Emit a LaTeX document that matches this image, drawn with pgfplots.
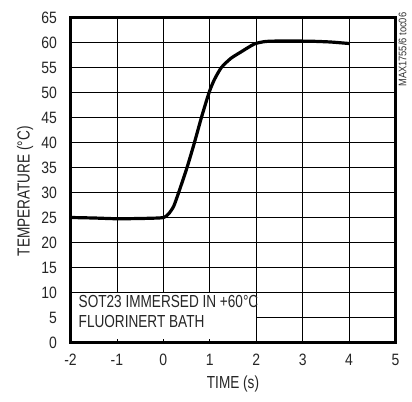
\documentclass[border=0pt]{standalone}
\usepackage{fontspec}
\setmainfont{Liberation Sans}[FakeStretch=0.85]
\newfontfamily\narrowfont{Liberation Sans}[FakeStretch=0.78]
\usepackage{pgfplots}
\pgfplotsset{compat=1.18}
\begin{document}
\begin{tikzpicture}
\path[use as bounding box] (-70.5bp,-59.5bp) rectangle (341.5bp,342.5bp);
\begin{axis}[
  at={(0,0)}, anchor=south west,
  scale only axis, width=325bp, height=325bp,
  xmin=-2, xmax=5, ymin=0, ymax=65,
  xtick={-2,-1,0,1,2,3,4,5}, ytick={0,5,...,65},
  grid=major, major grid style={black, line width=0.6bp},
  tick style={black, line width=0.6bp}, major tick length=4bp, tick align=inside,
  /pgf/number format/assume math mode=true,
  ticklabel style={font=\fontsize{16.5}{16.5}\selectfont, text=black!85},
  xticklabel style={yshift=-8bp},
  yticklabel style={xshift=-10bp},
  xlabel={TIME (s)}, ylabel={TEMPERATURE (°C)},
  label style={font=\narrowfont\fontsize{17.5}{17.5}\selectfont, text=black!85},
  xlabel style={at={(axis description cs:0.5,-0.128)}, anchor=center},
  ylabel style={at={(axis description cs:-0.14,0.465)}, anchor=center},
]
\fill[white] (axis cs:-2,0) rectangle (axis cs:1.99,9.93);
\draw[black, line width=0.6bp] (axis cs:-1,0) -- (axis cs:-1,0.8);
\draw[black, line width=0.6bp] (axis cs:0,0) -- (axis cs:0,0.8);
\draw[black, line width=0.6bp] (axis cs:1,0) -- (axis cs:1,0.8);
\addplot[black, line width=3.2bp, smooth, tension=0.4] coordinates {
(-2,25.0) (-1.5,24.9) (-1,24.75) (-0.5,24.8) (-0.1,24.9) (0,25.0) (0.05,25.2)
(0.12,25.8) (0.22,27.2) (0.33,30) (0.51,35) (0.67,40) (0.82,45) (0.985,50)
(1.1,52.6) (1.25,55) (1.45,56.8) (1.67,58.1) (1.96,59.7) (2.2,60.2) (2.5,60.3)
(2.8,60.3) (3.2,60.25) (3.6,60.1) (4.0,59.8)
};
\node[anchor=north west, align=left, inner sep=0, font=\narrowfont\fontsize{17.5}{20}\selectfont, text=black!85]
  at (axis cs:-2,10) [xshift=8bp, yshift=-3bp] {SOT23 IMMERSED IN +60°C\\FLUORINERT BATH};
\end{axis}
\draw[black, line width=3bp] (0bp,0bp) rectangle (325bp,325bp);
\node[rotate=90, anchor=east, inner sep=0, font=\fontsize{11}{11}\selectfont, text=black!80]
  at (332bp,330bp) {MAX1755/6 toc06};
\end{tikzpicture}
\end{document}
